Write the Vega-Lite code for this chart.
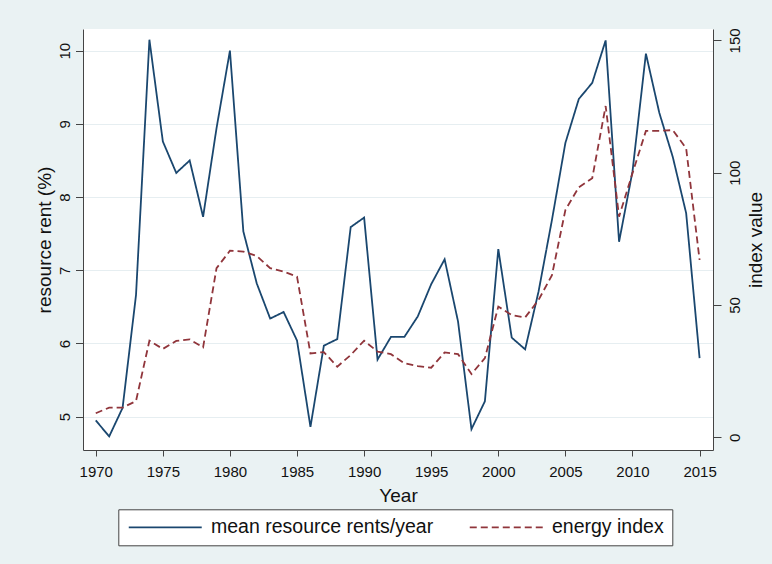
{
  "$schema": "https://vega.github.io/schema/vega-lite/v6.json",
  "width": 630,
  "height": 421,
  "autosize": {"type": "none"},
  "padding": {"left": 83, "top": 29, "right": 59, "bottom": 114},
  "background": "#EAF2F3",
  "config": {
    "view": {"fill": "white", "stroke": null},
    "font": "Liberation Sans",
    "axis": {
      "domainColor": "#444444",
      "domainWidth": 1,
      "tickColor": "#444444",
      "tickWidth": 1,
      "labelFont": "Liberation Sans",
      "labelFontSize": 15,
      "labelColor": "#111111",
      "titleFont": "Liberation Sans",
      "titleFontSize": 19,
      "titleFontWeight": "normal",
      "titleColor": "#111111"
    },
    "legend": {
      "labelFont": "Liberation Sans"
    }
  },
  "data": {
    "values": [
      {"year": 1970, "rent": 4.95, "idx": 9.1},
      {"year": 1971, "rent": 4.73, "idx": 11.2},
      {"year": 1972, "rent": 5.12, "idx": 11.2},
      {"year": 1973, "rent": 6.66, "idx": 13.7},
      {"year": 1974, "rent": 10.15, "idx": 36.5},
      {"year": 1975, "rent": 8.76, "idx": 33.4},
      {"year": 1976, "rent": 8.33, "idx": 36.4},
      {"year": 1977, "rent": 8.50, "idx": 37.0},
      {"year": 1978, "rent": 7.73, "idx": 34.0},
      {"year": 1979, "rent": 8.94, "idx": 63.9},
      {"year": 1980, "rent": 10.00, "idx": 70.5},
      {"year": 1981, "rent": 7.53, "idx": 70.2},
      {"year": 1982, "rent": 6.82, "idx": 68.5},
      {"year": 1983, "rent": 6.34, "idx": 63.9},
      {"year": 1984, "rent": 6.43, "idx": 62.6},
      {"year": 1985, "rent": 6.04, "idx": 60.7},
      {"year": 1986, "rent": 4.86, "idx": 31.7},
      {"year": 1987, "rent": 5.97, "idx": 32.2},
      {"year": 1988, "rent": 6.06, "idx": 26.7},
      {"year": 1989, "rent": 7.59, "idx": 31.1},
      {"year": 1990, "rent": 7.72, "idx": 36.5},
      {"year": 1991, "rent": 5.78, "idx": 32.4},
      {"year": 1992, "rent": 6.09, "idx": 31.4},
      {"year": 1993, "rent": 6.09, "idx": 28.0},
      {"year": 1994, "rent": 6.37, "idx": 26.9},
      {"year": 1995, "rent": 6.81, "idx": 26.3},
      {"year": 1996, "rent": 7.15, "idx": 32.1},
      {"year": 1997, "rent": 6.30, "idx": 31.4},
      {"year": 1998, "rent": 4.83, "idx": 23.9},
      {"year": 1999, "rent": 5.21, "idx": 29.9},
      {"year": 2000, "rent": 7.29, "idx": 49.4},
      {"year": 2001, "rent": 6.08, "idx": 46.2},
      {"year": 2002, "rent": 5.92, "idx": 45.3},
      {"year": 2003, "rent": 6.71, "idx": 51.9},
      {"year": 2004, "rent": 7.69, "idx": 61.3},
      {"year": 2005, "rent": 8.74, "idx": 85.9},
      {"year": 2006, "rent": 9.34, "idx": 94.5},
      {"year": 2007, "rent": 9.56, "idx": 97.9},
      {"year": 2008, "rent": 10.14, "idx": 125.2},
      {"year": 2009, "rent": 7.39, "idx": 83.4},
      {"year": 2010, "rent": 8.35, "idx": 99.8},
      {"year": 2011, "rent": 9.96, "idx": 115.8},
      {"year": 2012, "rent": 9.15, "idx": 115.8},
      {"year": 2013, "rent": 8.55, "idx": 116.1},
      {"year": 2014, "rent": 7.78, "idx": 109.2},
      {"year": 2015, "rent": 5.80, "idx": 67.0}
    ]
  },
  "encoding": {
    "x": {
      "field": "year",
      "type": "quantitative",
      "scale": {"domain": [1969.05, 2016.0], "nice": false, "zero": false},
      "axis": {
        "values": [1970, 1975, 1980, 1985, 1990, 1995, 2000, 2005, 2010, 2015],
        "format": "d",
        "title": "Year",
        "grid": false,
        "tickSize": 6,
        "labelPadding": 8,
        "titlePadding": 7
      }
    }
  },
  "layer": [
    {
      "mark": {"type": "line", "strokeWidth": 1.8},
      "encoding": {
        "y": {
          "field": "rent",
          "type": "quantitative",
          "scale": {"domain": [4.545, 10.296], "nice": false, "zero": false},
          "axis": {
            "orient": "left",
            "title": "resource rent (%)",
            "values": [5, 6, 7, 8, 9, 10],
            "grid": true,
            "gridColor": "#E6EEF1",
            "gridWidth": 1,
            "tickSize": 7.5,
            "labelAngle": -90,
            "labelAlign": "center",
            "labelBaseline": "bottom",
            "labelPadding": 3.3,
            "titlePadding": 3
          }
        },
        "color": {
          "datum": "mean resource rents/year",
          "scale": {"domain": ["mean resource rents/year", "energy index"], "range": ["#1A476F", "#90353B"]},
          "legend": {
            "title": null,
            "orient": "none",
            "legendX": 35.3,
            "legendY": 480.3,
            "columns": 2,
            "columnPadding": 32,
            "padding": 8,
            "fillColor": "white",
            "strokeColor": "#444444",
            "cornerRadius": 0,
            "symbolType": "M-5,0H5",
            "symbolSize": 213,
            "symbolOffset": 29.2,
            "symbolStrokeWidth": 1.8,
            "labelFontSize": 19.5,
            "labelColor": "#111111",
            "labelOffset": 36,
            "labelLimit": 400
          }
        },
        "strokeDash": {
          "datum": "mean resource rents/year",
          "scale": {"domain": ["mean resource rents/year", "energy index"], "range": [[1, 0], [7, 4]]},
          "legend": null
        }
      }
    },
    {
      "mark": {"type": "line", "strokeWidth": 1.8},
      "encoding": {
        "y": {
          "field": "idx",
          "type": "quantitative",
          "scale": {"domain": [-4.8, 154.3], "nice": false, "zero": false},
          "axis": {
            "orient": "right",
            "title": "index value",
            "values": [0, 50, 100, 150],
            "grid": false,
            "tickSize": 8,
            "labelAngle": -90,
            "labelAlign": "center",
            "labelBaseline": "top",
            "labelPadding": 6,
            "titleAngle": -90,
            "titleBaseline": "top",
            "titlePadding": 4
          }
        },
        "color": {"datum": "energy index"},
        "strokeDash": {"datum": "energy index"}
      }
    }
  ],
  "resolve": {"scale": {"y": "independent"}}
}
